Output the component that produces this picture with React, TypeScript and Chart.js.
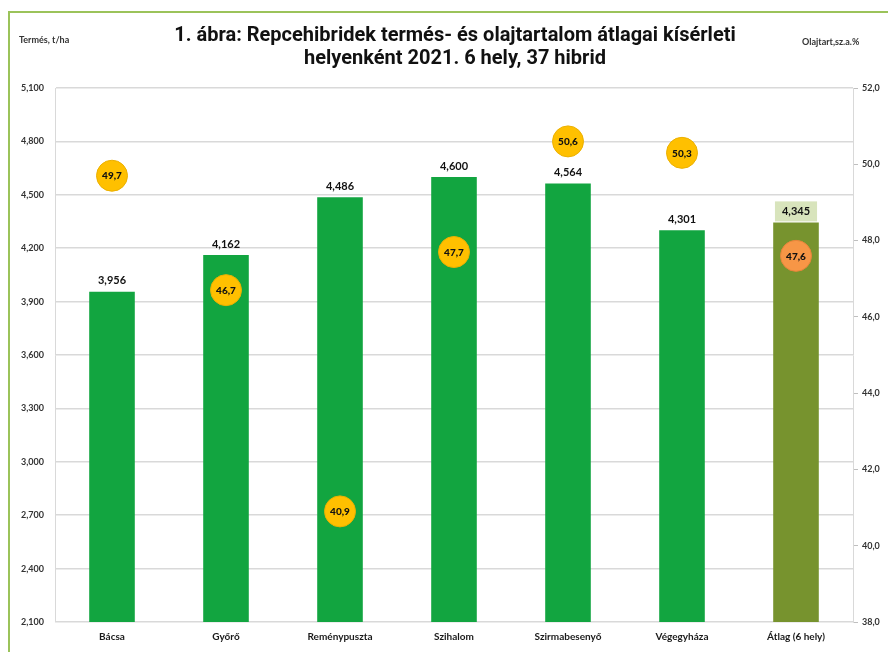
import React, { useEffect, useRef } from "react";
import { Chart, registerables } from "chart.js";
Chart.register(...registerables);

const categories = ["Bácsa", "Győrő", "Reménypuszta", "Szihalom", "Szirmabesenyő", "Végegyháza", "Átlag (6 hely)"];
const yields = [3.956, 4.162, 4.486, 4.6, 4.564, 4.301, 4.345];
const oilContent = [49.7, 46.7, 40.9, 47.7, 50.6, 50.3, 47.6];
const barColors = ["#12a540", "#12a540", "#12a540", "#12a540", "#12a540", "#12a540", "#77932e"];
const pointColors = ["#ffc000", "#ffc000", "#ffc000", "#ffc000", "#ffc000", "#ffc000", "#f79646"];
const pointBorders = ["#ebb000", "#ebb000", "#ebb000", "#ebb000", "#ebb000", "#ebb000", "#e8853a"];
const titleLines = ["1. ábra: Repcehibridek termés- és olajtartalom átlagai kísérleti", "helyenként 2021. 6 hely, 37 hibrid"];
const leftAxisTitle = "Termés, t/ha";
const rightAxisTitle = "Olajtart,sz.a.%";

const FONT = "Lato, 'Open Sans', sans-serif";
const fmtYield = (v: number) => v.toFixed(3).replace(".", ",");
const fmtOil = (v: number) => v.toFixed(1).replace(".", ",");

const labelPlugin = {
  id: "valueLabels",
  afterDatasetsDraw(chart: any) {
    const ctx = chart.ctx;
    ctx.save();
    const barMeta = chart.getDatasetMeta(0);
    ctx.font = `bold 11px ${FONT}`;
    ctx.textAlign = "center";
    ctx.textBaseline = "middle";
    barMeta.data.forEach((el: any, i: number) => {
      const txt = fmtYield(yields[i]);
      const y = el.y - 11;
      if (i === yields.length - 1) {
        const w = ctx.measureText(txt).width + 14;
        ctx.fillStyle = "#d8e4bc";
        ctx.fillRect(el.x - w / 2, y - 10, w, 20);
      }
      ctx.fillStyle = "#111";
      ctx.fillText(txt, el.x, y);
    });
    const ptMeta = chart.getDatasetMeta(1);
    ctx.font = `900 10px ${FONT}`;
    ptMeta.data.forEach((el: any, i: number) => {
      ctx.fillStyle = "#111";
      ctx.fillText(fmtOil(oilContent[i]), el.x, el.y + 0.5);
    });
    ctx.restore();
  },
};

export default function App() {
  const ref = useRef<HTMLCanvasElement | null>(null);
  useEffect(() => {
    if (!ref.current) return;
    const chart = new Chart(ref.current, {
      type: "bar",
      data: {
        labels: categories,
        datasets: [
          {
            type: "bar",
            data: yields,
            backgroundColor: barColors,
            barPercentage: 0.4,
            categoryPercentage: 1,
            yAxisID: "y",
            order: 2,
          },
          {
            type: "line",
            data: oilContent,
            showLine: false,
            pointRadius: 15.5,
            pointHoverRadius: 15.5,
            pointBackgroundColor: pointColors,
            pointBorderColor: pointBorders,
            pointBorderWidth: 1,
            yAxisID: "y1",
            order: 1,
          } as any,
        ],
      },
      options: {
        responsive: false,
        animation: false,
        devicePixelRatio: 1,
        layout: { padding: { left: 0, right: 0, top: 88, bottom: 0 } },
        plugins: { legend: { display: false }, tooltip: { enabled: false }, title: { display: false } },
        scales: {
          x: {
            grid: { display: false, drawTicks: false },
            border: { display: false },
            ticks: { color: "#1a1a1a", font: { family: FONT, size: 10, weight: "bold" }, padding: 9, maxRotation: 0 },
            afterFit: (s: any) => { s.height = 30; },
          },
          y: {
            position: "left",
            min: 2.1,
            max: 5.1,
            ticks: {
              stepSize: 0.3,
              color: "#333",
              font: { family: FONT, size: 9, weight: "bold" },
              padding: 11,
              callback: (v: any) => fmtYield(Number(v)),
            },
            grid: { color: "#d9d9d9", lineWidth: 1.5, drawTicks: false },
            border: { display: true, color: "#d9d9d9", width: 1 },
            afterFit: (s: any) => { s.width = 55; },
          },
          y1: {
            position: "right",
            min: 38,
            max: 52,
            ticks: {
              stepSize: 2,
              color: "#333",
              font: { family: FONT, size: 9, weight: "bold" },
              padding: 4,
              callback: (v: any) => fmtOil(Number(v)),
            },
            grid: { drawOnChartArea: false, color: "#bfbfbf", tickLength: 5 },
            border: { display: true, color: "#d9d9d9", width: 1 },
            afterFit: (s: any) => { s.width = 35; },
          },
        },
      },
      plugins: [labelPlugin],
    });
    return () => chart.destroy();
  }, []);

  return (
    <div style={{ position: "fixed", left: 0, top: 0, width: 888, height: 652, background: "#fff", overflow: "hidden" }}>
      <div
        style={{
          position: "absolute",
          left: 8,
          top: 11,
          width: 900,
          height: 700,
          borderLeft: "2px solid #9bc35a",
          borderTop: "2px solid #9bc35a",
        }}
      />
      <canvas ref={ref} width={888} height={652} style={{ position: "absolute", left: 0, top: 0 }} />
      <div
        style={{
          position: "absolute",
          left: 0,
          width: 888,
          top: 23,
          textAlign: "center",
          fontFamily: "'Liberation Sans Narrow', 'Roboto', sans-serif",
          fontWeight: "bold",
          fontSize: 20,
          lineHeight: "23px",
          color: "#111",
          paddingLeft: 22,
          boxSizing: "border-box",
        }}
      >
        <div>{titleLines[0]}</div>
        <div>{titleLines[1]}</div>
      </div>
      <div
        style={{ position: "absolute", left: 19, top: 34, fontFamily: FONT, fontWeight: "bold", fontSize: 9, color: "#333" }}
      >
        {leftAxisTitle}
      </div>
      <div
        style={{ position: "absolute", left: 802, top: 36, fontFamily: FONT, fontWeight: "bold", fontSize: 9, color: "#333" }}
      >
        {rightAxisTitle}
      </div>
    </div>
  );
}
